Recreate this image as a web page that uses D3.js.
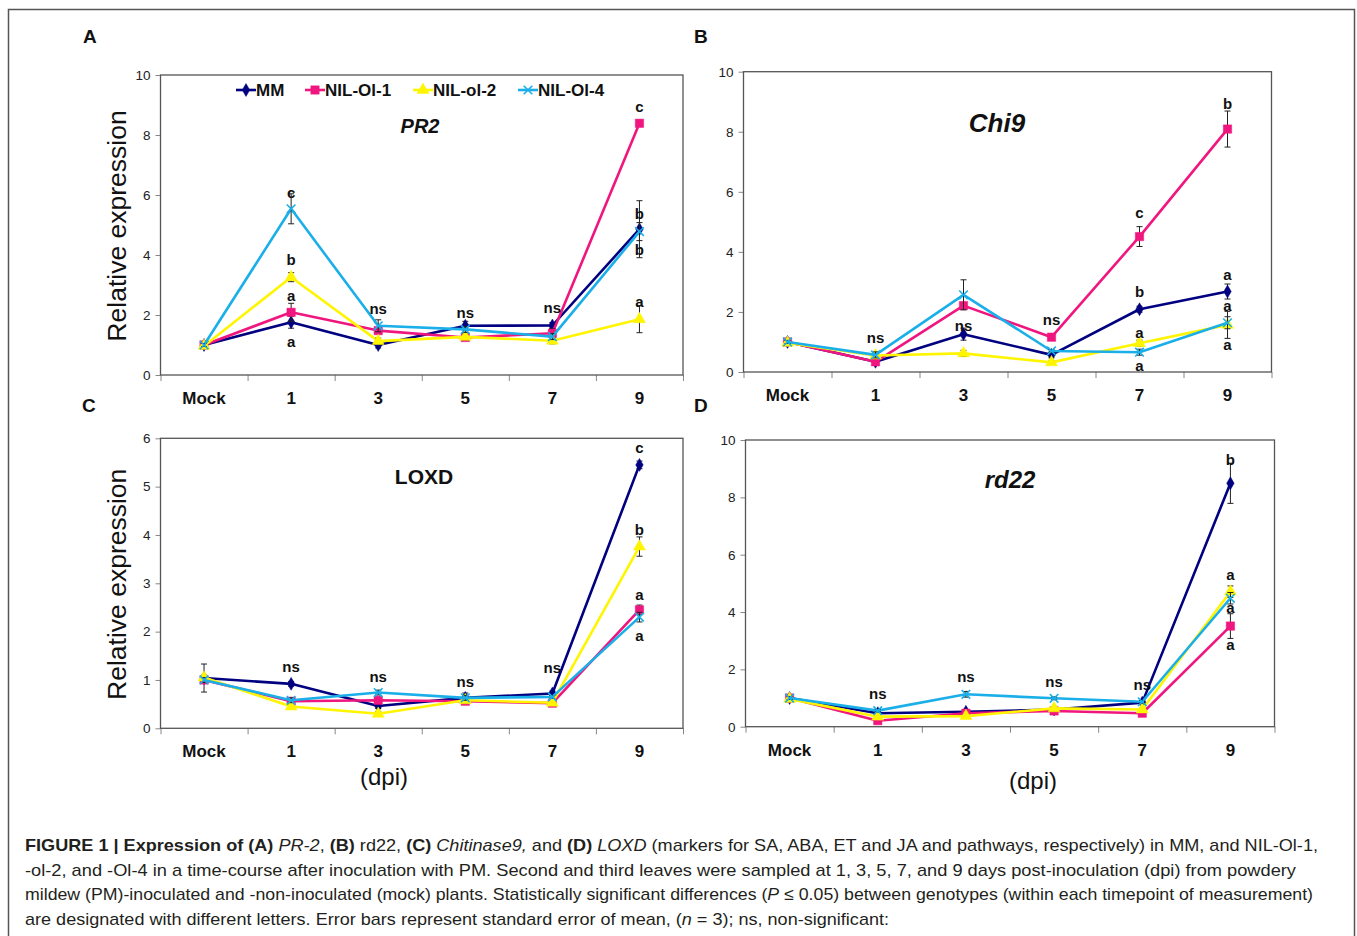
<!DOCTYPE html>
<html>
<head>
<meta charset="utf-8">
<script src="https://cdn.jsdelivr.net/npm/d3@7"></script>
<style>
  body { margin: 0; background: #fff; }
  svg { display: block; font-family: "Liberation Sans", Arial, sans-serif; }
</style>
</head>
<body>
<svg id="fig" width="1357" height="936"></svg>
<script>
// categories and series
var categories = ["Mock", "1", "3", "5", "7", "9"];
var seriesNames = ["MM", "NIL-Ol-1", "NIL-ol-2", "NIL-Ol-4"];

// A: PR2  (rows = MM, Ol-1, ol-2, Ol-4)
var pr2Values = [
  [1.00, 1.76, 1.00, 1.64, 1.65, 4.86],
  [1.00, 2.09, 1.48, 1.25, 1.39, 8.39],
  [0.97, 3.26, 1.13, 1.27, 1.14, 1.86],
  [1.00, 5.54, 1.64, 1.52, 1.28, 4.78]
];
var pr2Errors = [
  [0.05, 0.20, 0.10, 0.15, 0.10, 0.95],
  [0.05, 0.30, 0.10, 0.10, 0.15, 0.10],
  [0.05, 0.15, 0.10, 0.10, 0.10, 0.45],
  [0.05, 0.50, 0.20, 0.10, 0.10, 0.30]
];
var pr2Letters = [
  [1, 6.07, "c"], [1, 3.83, "b"], [1, 2.63, "a"], [1, 1.10, "a"],
  [2, 2.20, "ns"], [3, 2.07, "ns"], [4, 2.23, "ns"],
  [5, 8.93, "c"], [5, 5.37, "b"], [5, 4.17, "b"], [5, 2.43, "a"]
];

// B: Chi9
var chi9Values = [
  [1.00, 0.34, 1.26, 0.57, 2.09, 2.68],
  [1.00, 0.34, 2.21, 1.16, 4.51, 8.09],
  [0.97, 0.55, 0.62, 0.32, 0.96, 1.57],
  [1.00, 0.57, 2.57, 0.70, 0.66, 1.64]
];
var chi9Errors = [
  [0.05, 0.10, 0.20, 0.10, 0.10, 0.25],
  [0.05, 0.05, 0.10, 0.10, 0.33, 0.60],
  [0.05, 0.05, 0.10, 0.05, 0.10, 0.45],
  [0.05, 0.10, 0.50, 0.05, 0.10, 0.20]
];
var chi9Letters = [
  [1, 1.13, "ns"], [2, 1.53, "ns"], [3, 1.73, "ns"],
  [4, 5.30, "c"], [4, 2.67, "b"], [4, 1.30, "a"], [4, 0.20, "a"],
  [5, 8.93, "b"], [5, 3.23, "a"], [5, 2.20, "a"], [5, 0.90, "a"]
];

// C: LOXD
var loxdValues = [
  [1.04, 0.92, 0.46, 0.63, 0.72, 5.45],
  [1.00, 0.56, 0.58, 0.56, 0.52, 2.45],
  [1.05, 0.45, 0.30, 0.58, 0.53, 3.76],
  [1.00, 0.58, 0.74, 0.63, 0.65, 2.30]
];
var loxdErrors = [
  [0.29, 0.05, 0.05, 0.10, 0.05, 0.08],
  [0.05, 0.05, 0.05, 0.05, 0.03, 0.10],
  [0.05, 0.05, 0.05, 0.05, 0.03, 0.20],
  [0.05, 0.05, 0.05, 0.05, 0.03, 0.10]
];
var loxdLetters = [
  [1, 1.27, "ns"], [2, 1.06, "ns"], [3, 0.96, "ns"], [4, 1.25, "ns"],
  [5, 5.80, "c"], [5, 4.10, "b"], [5, 2.76, "a"], [5, 1.91, "a"]
];

// D: rd22
var rd22Values = [
  [1.00, 0.47, 0.52, 0.60, 0.84, 8.49],
  [1.00, 0.21, 0.47, 0.55, 0.47, 3.51],
  [0.97, 0.35, 0.37, 0.64, 0.60, 4.71],
  [1.00, 0.56, 1.13, 0.99, 0.87, 4.48]
];
var rd22Errors = [
  [0.05, 0.05, 0.05, 0.05, 0.05, 0.70],
  [0.05, 0.05, 0.05, 0.05, 0.05, 0.43],
  [0.05, 0.05, 0.05, 0.05, 0.05, 0.20],
  [0.05, 0.05, 0.10, 0.05, 0.05, 0.20]
];
var rd22Letters = [
  [1, 1.14, "ns"], [2, 1.73, "ns"], [3, 1.56, "ns"], [4, 1.45, "ns"],
  [5, 9.30, "b"], [5, 5.29, "a"], [5, 4.14, "a"], [5, 2.85, "a"]
];

// styles
var colors = ["#000080", "#F0167F", "#FFF500", "#1AAFE8"];
var symbols = [d3.symbolDiamond, d3.symbolSquare, d3.symbolTriangle, d3.symbolX];
var symbolSizes = [48, 70, 62, 50];

var svg = d3.select("#fig");

// outer frame
svg.append("rect")
  .attr("x", 8.5).attr("y", 9.5)
  .attr("width", 1346).attr("height", 1000)
  .attr("fill", "none").attr("stroke", "#555").attr("stroke-width", 1.5);

var panels = [
  {letter: "A", lx: 83, ly: 43, left: 160.5, right: 683, top: 75, bottom: 375, yMax: 10, step: 2,
   values: pr2Values, errors: pr2Errors, letters: pr2Letters,
   title: "PR2", tx: 420, ty: 126, tsize: 20, italic: true, ytitle: true, legend: true, dpi: false},
  {letter: "B", lx: 694, ly: 43, left: 743.5, right: 1271.5, top: 71.7, bottom: 372, yMax: 10, step: 2,
   values: chi9Values, errors: chi9Errors, letters: chi9Letters,
   title: "Chi9", tx: 997, ty: 123, tsize: 26, italic: true, ytitle: false, legend: false, dpi: false},
  {letter: "C", lx: 82, ly: 412, left: 160.5, right: 683, top: 438.3, bottom: 728.3, yMax: 6, step: 1,
   values: loxdValues, errors: loxdErrors, letters: loxdLetters,
   title: "LOXD", tx: 424, ty: 477, tsize: 21, italic: false, ytitle: true, legend: false, dpi: true, dpiX: 384, dpiY: 777},
  {letter: "D", lx: 694, ly: 412, left: 745.5, right: 1274.5, top: 440, bottom: 726.7, yMax: 10, step: 2,
   values: rd22Values, errors: rd22Errors, letters: rd22Letters,
   title: "rd22", tx: 1010, ty: 480, tsize: 24, italic: true, ytitle: false, legend: false, dpi: true, dpiX: 1033, dpiY: 781}
];

panels.forEach(function(p) {
  var x = d3.scaleBand().domain(categories).range([p.left, p.right]).paddingInner(0).paddingOuter(0);
  var xEdge = d3.scaleLinear().domain([0, categories.length]).range([p.left, p.right]);
  var y = d3.scaleLinear().domain([0, p.yMax]).range([p.bottom, p.top]);
  var cx = function(i) { return x(categories[i]) + x.bandwidth() / 2; };

  // panel letter
  svg.append("text").attr("x", p.lx).attr("y", p.ly)
    .attr("font-size", 19).attr("font-weight", "bold").attr("fill", "#111").text(p.letter);

  // y axis
  var ya = svg.append("g").attr("transform", "translate(" + p.left + ",0)")
    .call(d3.axisLeft(y).tickValues(d3.range(0, p.yMax + 0.001, p.step))
      .tickFormat(d3.format("d")).tickSize(5).tickPadding(5));
  ya.select(".domain").remove();
  ya.selectAll("line").attr("stroke", "#888");
  ya.selectAll("text").attr("font-size", 13.5).attr("fill", "#222")
    .attr("font-family", "'Liberation Sans', Arial, sans-serif");

  // x axis: boundary ticks
  var xe = svg.append("g").attr("transform", "translate(0," + p.bottom + ")")
    .call(d3.axisBottom(xEdge).tickValues(d3.range(0, categories.length + 1)).tickSize(6).tickFormat(""));
  xe.select(".domain").remove();
  xe.selectAll("line").attr("stroke", "#888");

  // x axis: labels
  var xl = svg.append("g").attr("transform", "translate(0," + p.bottom + ")")
    .call(d3.axisBottom(x).tickSize(0).tickPadding(17));
  xl.select(".domain").remove();
  xl.selectAll("text").attr("font-size", 17).attr("font-weight", "bold").attr("fill", "#111")
    .attr("font-family", "'Liberation Sans', Arial, sans-serif");

  // plot frame
  svg.append("rect").attr("x", p.left).attr("y", p.top)
    .attr("width", p.right - p.left).attr("height", p.bottom - p.top)
    .attr("fill", "none").attr("stroke", "#555").attr("stroke-width", 1.3);

  // titles
  svg.append("text").attr("x", p.tx).attr("y", p.ty).attr("dy", "0.35em")
    .attr("text-anchor", "middle").attr("font-size", p.tsize).attr("font-weight", "bold")
    .attr("font-style", p.italic ? "italic" : "normal").attr("fill", "#111").text(p.title);

  if (p.ytitle) {
    svg.append("text")
      .attr("transform", "translate(117," + ((p.top + p.bottom) / 2 + 1) + ") rotate(-90)")
      .attr("text-anchor", "middle").attr("dy", "0.35em")
      .attr("font-size", 26.5).attr("fill", "#111").text("Relative expression");
  }
  if (p.dpi) {
    svg.append("text").attr("x", p.dpiX).attr("y", p.dpiY).attr("dy", "0.35em")
      .attr("text-anchor", "middle").attr("font-size", 24).attr("fill", "#111").text("(dpi)");
  }

  var line = d3.line().x(function(d, i) { return cx(i); }).y(function(d) { return y(d); });

  p.values.forEach(function(vals, s) {
    svg.append("path").datum(vals)
      .attr("fill", "none").attr("stroke", colors[s]).attr("stroke-width", 2.6)
      .attr("stroke-linejoin", "round").attr("d", line);

    // error bars
    var eg = svg.append("g").attr("stroke", "#222").attr("stroke-width", 1);
    vals.forEach(function(v, i) {
      var e = p.errors[s][i];
      var x0 = cx(i);
      eg.append("line").attr("x1", x0).attr("x2", x0).attr("y1", y(v - e)).attr("y2", y(v + e));
      eg.append("line").attr("x1", x0 - 3).attr("x2", x0 + 3).attr("y1", y(v - e)).attr("y2", y(v - e));
      eg.append("line").attr("x1", x0 - 3).attr("x2", x0 + 3).attr("y1", y(v + e)).attr("y2", y(v + e));
    });

    // markers
    var sym = d3.symbol().type(symbols[s]).size(symbolSizes[s]);
    svg.append("g").selectAll("path").data(vals).join("path")
      .attr("transform", function(d, i) { return "translate(" + cx(i) + "," + y(d) + ")"; })
      .attr("d", sym)
      .attr("fill", s === 3 ? "none" : colors[s])
      .attr("stroke", colors[s]).attr("stroke-width", s === 3 ? 1.6 : 0.5);
  });

  // significance letters
  svg.append("g").selectAll("text").data(p.letters).join("text")
    .attr("x", function(d) { return cx(d[0]); })
    .attr("y", function(d) { return y(d[1]); })
    .attr("dy", "0.35em").attr("text-anchor", "middle")
    .attr("font-size", 15).attr("font-weight", "bold").attr("fill", "#111")
    .text(function(d) { return d[2]; });

  // legend (panel A only)
  if (p.legend) {
    var legX = [236, 305, 413, 518];
    var legY = 90;
    seriesNames.forEach(function(n, s) {
      var g = svg.append("g");
      g.append("line").attr("x1", legX[s]).attr("x2", legX[s] + 20).attr("y1", legY).attr("y2", legY)
        .attr("stroke", colors[s]).attr("stroke-width", 2.6);
      g.append("path").attr("transform", "translate(" + (legX[s] + 10) + "," + legY + ")")
        .attr("d", d3.symbol().type(symbols[s]).size(symbolSizes[s])())
        .attr("fill", s === 3 ? "none" : colors[s]).attr("stroke", colors[s])
        .attr("stroke-width", s === 3 ? 1.6 : 0.5);
      g.append("text").attr("x", legX[s] + 20).attr("y", legY).attr("dy", "0.35em")
        .attr("font-size", 17).attr("font-weight", "bold").attr("fill", "#111").text(n);
    });
  }
});

// caption
var captionLines = [
  {w: 1293, parts: [["FIGURE 1 | Expression of (A) ", "b"], ["PR-2", "i"], [", ", ""], ["(B)", "b"], [" rd22, ", ""],
    ["(C) ", "b"], ["Chitinase9,", "i"], [" and ", ""], ["(D) ", "b"], ["LOXD", "i"],
    [" (markers for SA, ABA, ET and JA and pathways, respectively) in MM, and NIL-Ol-1,", ""]]},
  {w: 1271, parts: [["-ol-2, and -Ol-4 in a time-course after inoculation with PM. Second and third leaves were sampled at 1, 3, 5, 7, and 9 days post-inoculation (dpi) from powdery", ""]]},
  {w: 1288, parts: [["mildew (PM)-inoculated and -non-inoculated (mock) plants. Statistically significant differences (", ""], ["P", "i"],
    [" \u2264 0.05) between genotypes (within each timepoint of measurement)", ""]]},
  {w: 864, parts: [["are designated with different letters. Error bars represent standard error of mean, (", ""], ["n", "i"],
    [" = 3); ns, non-significant:", ""]]}
];
captionLines.forEach(function(l, i) {
  var t = svg.append("text").attr("x", 25).attr("y", 851 + i * 24.7)
    .attr("font-size", 17).attr("fill", "#231f20")
    .attr("textLength", l.w).attr("lengthAdjust", "spacingAndGlyphs");
  l.parts.forEach(function(pt) {
    t.append("tspan").text(pt[0])
      .attr("font-weight", pt[1] === "b" ? "bold" : "normal")
      .attr("font-style", pt[1] === "i" ? "italic" : "normal");
  });
});
</script>
</body>
</html>
